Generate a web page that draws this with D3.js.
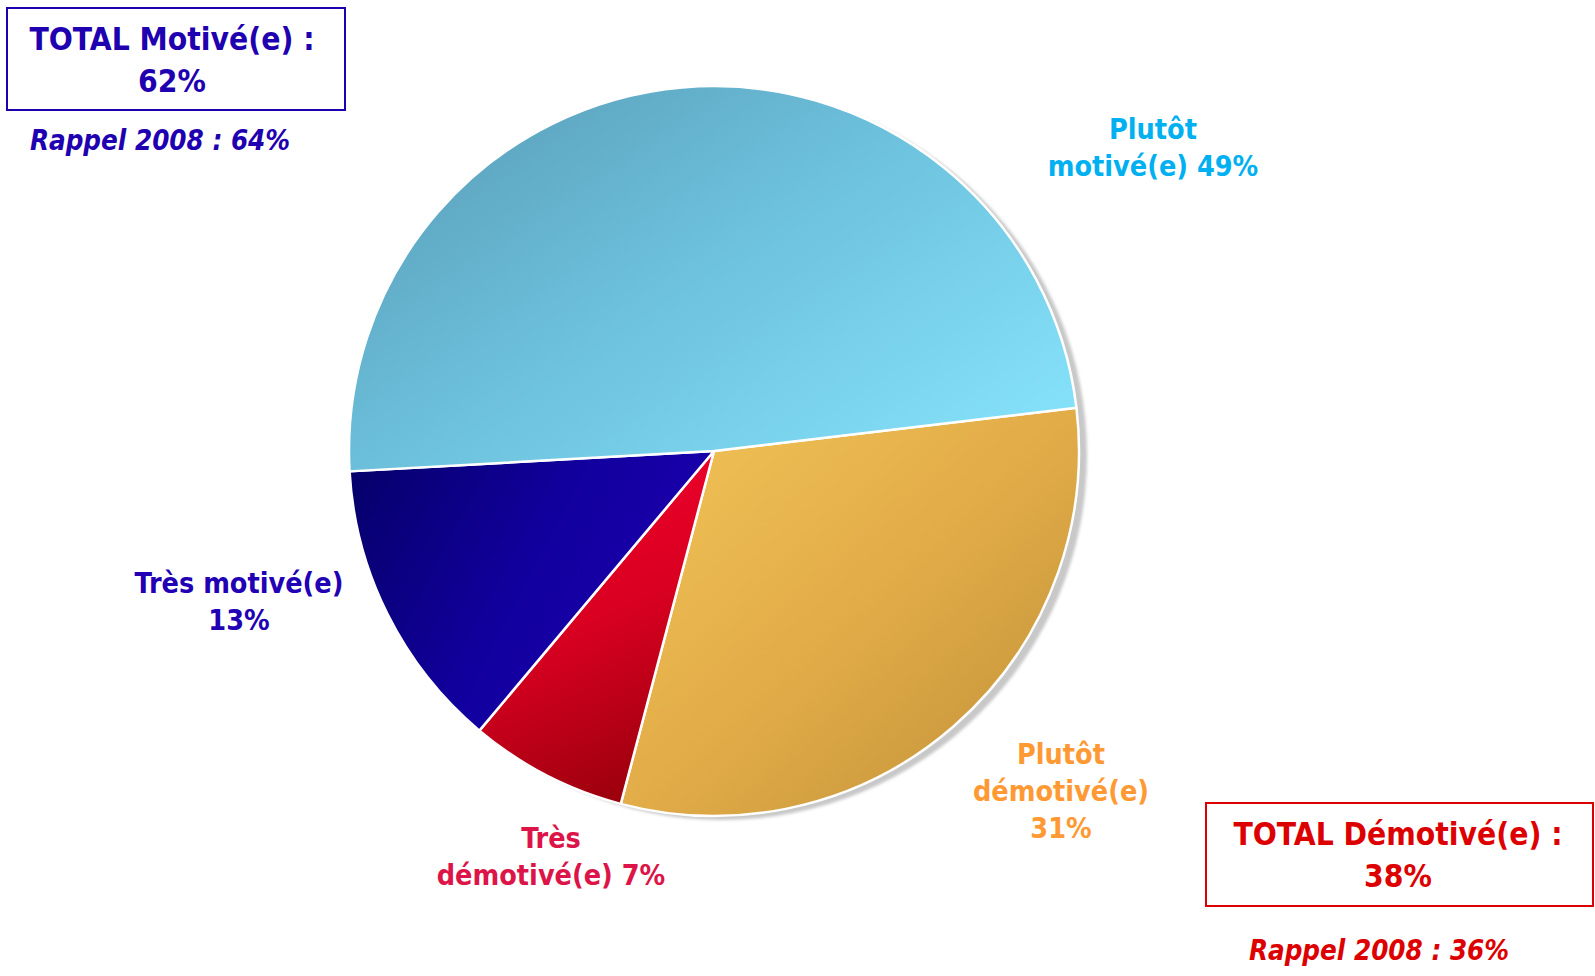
<!DOCTYPE html>
<html>
<head>
<meta charset="utf-8">
<script src="https://cdn.jsdelivr.net/npm/d3@7"></script>
<style>
  body { margin: 0; background: #fff; }
  text { font-family: "DejaVu Sans Condensed", "DejaVu Sans", sans-serif; font-weight: bold; }
</style>
</head>
<body>
<div id="chart"></div>
<script>
// slices, clockwise from the right-hand boundary
const categories = ["Plutôt démotivé(e)", "Très démotivé(e)", "Très motivé(e)", "Plutôt motivé(e)"];
const values = [31, 7, 13, 49];
const labelLines = [["Plutôt", "démotivé(e)", "31%"], ["Très", "démotivé(e) 7%"], ["Très motivé(e)", "13%"], ["Plutôt", "motivé(e) 49%"]];
const labelColors = ["#ff9933", "#dc1448", "#2200b4", "#00b0f0"];
const gradStops = [["#f2c558", "#e2ac48", "#be9038"], ["#f4002e", "#d80020", "#9a000c"], ["#06006e", "#12009e", "#1c00b0"], ["#5798b2", "#6cc0dc", "#84e0f8"]];
const totals = [{title: "TOTAL Motivé(e) :", value: "62%", rappel: "Rappel 2008 : 64%", color: "#1f00b0"},
                {title: "TOTAL Démotivé(e) :", value: "38%", rappel: "Rappel 2008 : 36%", color: "#dd0000"}];

const width = 1595, height = 976;
const cx = 714, cy = 451, radius = 365;

const svg = d3.select("#chart").append("svg")
    .attr("width", width)
    .attr("height", height);

const defs = svg.append("defs");
// gradient directions per slice (x1,y1,x2,y2 in bounding box units)
const gradDir = [[0, 0, 1, 1], [0.3, 0, 0.6, 1], [0, 0.2, 1, 0.6], [0, 0, 1, 0.8]];
gradStops.forEach((stops, i) => {
    const g = defs.append("linearGradient")
        .attr("id", "grad" + i)
        .attr("x1", gradDir[i][0]).attr("y1", gradDir[i][1])
        .attr("x2", gradDir[i][2]).attr("y2", gradDir[i][3]);
    stops.forEach((c, j) => {
        g.append("stop").attr("offset", j / (stops.length - 1)).attr("stop-color", c);
    });
});
defs.append("filter").attr("id", "blur")
    .append("feGaussianBlur").attr("stdDeviation", 1.5);

const pie = d3.pie().sort(null).value(d => d)
    .startAngle(83.2 * Math.PI / 180)
    .endAngle(83.2 * Math.PI / 180 + 2 * Math.PI);
const arc = d3.arc().innerRadius(0).outerRadius(radius);

const g = svg.append("g").attr("transform", `translate(${cx},${cy})`);

// shadow
g.append("circle")
    .attr("cx", 8).attr("cy", 4)
    .attr("r", radius)
    .attr("fill", "#c8c8c8")
    .attr("filter", "url(#blur)");

g.selectAll("path.slice")
    .data(pie(values))
    .enter().append("path")
    .attr("class", "slice")
    .attr("d", arc)
    .attr("fill", (d, i) => `url(#grad${i})`)
    .attr("stroke", "#fff")
    .attr("stroke-width", 2.5)
    .attr("stroke-linejoin", "round");

// label anchors (relative to pie centre) and line spacing
const labelPos = [[347, 313], [-163, 397], [-475, 142], [439, -312]];
const lineH = 37;
labelLines.forEach((lines, i) => {
    const t = g.append("text")
        .attr("text-anchor", "middle")
        .attr("fill", labelColors[i])
        .style("font-size", "28.5px");
    lines.forEach((s, j) => {
        t.append("tspan")
            .attr("x", labelPos[i][0])
            .attr("y", labelPos[i][1] + j * lineH)
            .text(s);
    });
});

// total boxes
const boxes = [{x: 7, y: 8, w: 338, h: 102, tx: 172, ty: 50, ry: 150},
               {x: 1206, y: 803, w: 387, h: 103, tx: 1398, ty: 845, ry: 960}];
totals.forEach((d, i) => {
    const b = boxes[i];
    svg.append("rect")
        .attr("x", b.x).attr("y", b.y)
        .attr("width", b.w).attr("height", b.h)
        .attr("fill", "none")
        .attr("stroke", d.color)
        .attr("stroke-width", 2);
    const t = svg.append("text")
        .attr("text-anchor", "middle")
        .attr("fill", d.color)
        .style("font-size", "31.5px");
    t.append("tspan").attr("x", b.tx).attr("y", b.ty).text(d.title);
    t.append("tspan").attr("x", b.tx).attr("y", b.ty + 42).text(d.value);
    svg.append("text")
        .attr("x", b.tx - (i === 0 ? 12 : 19))
        .attr("y", b.ry)
        .attr("text-anchor", "middle")
        .attr("fill", d.color)
        .style("font-size", "27.5px")
        .style("font-style", "italic")
        .text(d.rappel);
});
</script>
</body>
</html>
